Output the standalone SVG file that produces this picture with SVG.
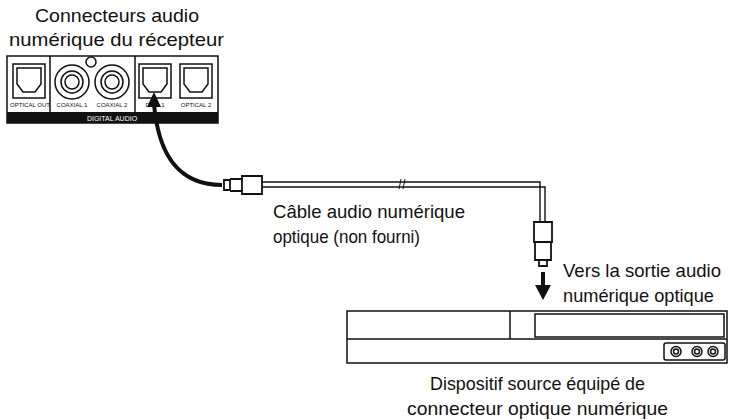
<svg xmlns="http://www.w3.org/2000/svg" width="737" height="420" viewBox="0 0 737 420">
<style>
text{font-family:"Liberation Sans",Arial,sans-serif;fill:#111}
.t{font-size:19px}
.s{font-size:6px;text-anchor:middle}
.o{fill:none;stroke:#111;stroke-width:1.5}
</style>
<defs>
<g id="opt"><rect x="0" y="0" width="32" height="34" class="o"/><path d="M4 4h24v16l-6 8h-12l-6-8z" class="o" stroke-width="1"/></g>
<g id="jack"><circle r="5" class="o" stroke-width="1.2"/><circle r="2.5" class="o" stroke-width="1"/></g>
</defs>
<rect width="737" height="420" fill="#fff"/>
<g id="receiver">
<text class="t" x="35" y="22" textLength="164" lengthAdjust="spacingAndGlyphs">Connecteurs audio</text>
<text class="t" x="9" y="46" textLength="215" lengthAdjust="spacingAndGlyphs">numérique du récepteur</text>
<rect x="7" y="56" width="211" height="67" class="o"/>
<rect x="7" y="112" width="211" height="11" fill="#111"/>
<text x="112" y="120.5" style="font-size:7px;fill:#fff" text-anchor="middle">DIGITAL AUDIO</text>
<line x1="50" y1="56" x2="50" y2="112" class="o" stroke-width="1"/>
<line x1="135" y1="56" x2="135" y2="112" class="o" stroke-width="1"/>
<use href="#opt" x="13" y="64"/>
<use href="#opt" x="139" y="64"/>
<use href="#opt" x="180" y="64"/>
<circle cx="72" cy="82" r="17" class="o" stroke-width="2.5"/><circle cx="72" cy="82" r="11" class="o"/><circle cx="72" cy="82" r="7" class="o" stroke-width="1"/>
<circle cx="112" cy="82" r="17" class="o" stroke-width="2.5"/><circle cx="112" cy="82" r="11" class="o"/><circle cx="112" cy="82" r="7" class="o" stroke-width="1"/>
<circle cx="91" cy="62" r="5" class="o" stroke-width="1"/>
<text class="s" x="30" y="107">OPTICAL OUT</text>
<text class="s" x="72" y="107">COAXIAL 1</text>
<text class="s" x="112" y="107">COAXIAL 2</text>
<text class="s" x="155" y="107">D...   L 1</text>
<text class="s" x="196" y="107">OPTICAL 2</text>
</g>
<g id="connectors">
<path d="M222 185 C175 185 158 150 154 104" fill="none" stroke="#111" stroke-width="4"/>
<path d="M154 92 l-7 15 h14 z" fill="#111"/>
<path d="M230 180 v10 h-6 v-10 z M230 179 h12 v12 h-12 M242 176 h20 v18 h-20 z" fill="#fff" stroke="#111" stroke-width="1.8"/>
<path d="M262 182 H540 V222 M262 187 H545 V222" fill="none" stroke="#111" stroke-width="1.4"/>
<path d="M401 179 l-2 10 M405 179 l-2 10" stroke="#111" stroke-width="1"/>
<path d="M534 222 h18 v20 h-18 z M535 242 h16 v18 h-16 z M539 260 h8 v6 h-8 z" fill="#fff" stroke="#111" stroke-width="1.8"/>
<line x1="543" y1="272" x2="543" y2="286" stroke="#111" stroke-width="4"/>
<path d="M535 285 h16 l-8 15 z" fill="#111"/>
<text class="t" x="273" y="218" textLength="192" lengthAdjust="spacingAndGlyphs">Câble audio numérique</text>
<text class="t" x="273" y="243" textLength="147" lengthAdjust="spacingAndGlyphs">optique (non fourni)</text>
</g>
<g id="device">
<text class="t" x="563" y="277" textLength="158" lengthAdjust="spacingAndGlyphs">Vers la sortie audio</text>
<text class="t" x="563" y="302" textLength="151" lengthAdjust="spacingAndGlyphs">numérique optique</text>
<rect x="347" y="311" width="380" height="52" class="o"/>
<line x1="347" y1="339" x2="727" y2="339" class="o"/>
<line x1="510" y1="311" x2="510" y2="339" class="o" stroke-width="1"/>
<rect x="535" y="314" width="189" height="23" class="o"/>
<rect x="664" y="343" width="61" height="17" rx="2" class="o" stroke-width="1.2"/>
<use href="#jack" x="676" y="351.5"/><use href="#jack" x="697" y="351.5"/><use href="#jack" x="713" y="351.5"/>
<text class="t" x="430" y="390" textLength="215" lengthAdjust="spacingAndGlyphs">Dispositif source équipé de</text>
<text class="t" x="407" y="415" textLength="261" lengthAdjust="spacingAndGlyphs">connecteur optique numérique</text>
</g>
</svg>
